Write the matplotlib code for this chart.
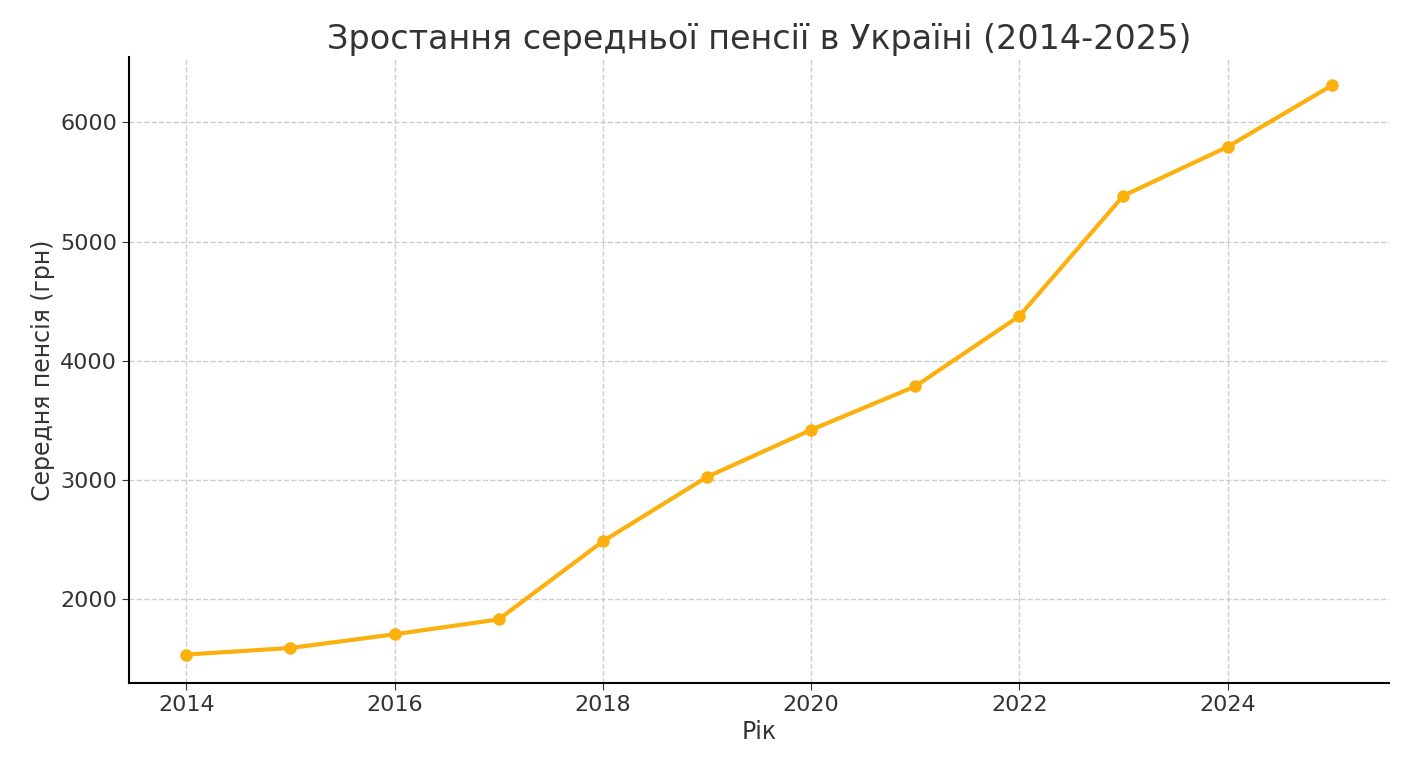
import matplotlib.pyplot as plt

years = [2014, 2015, 2016, 2017, 2018, 2019, 2020, 2021, 2022, 2023, 2024, 2025]
pension = [1535, 1590, 1705, 1830, 2485, 3025, 3420, 3785, 4375, 5385, 5795, 6310]

fig = plt.figure(figsize=(14.01, 7.65), dpi=100)
ax = fig.add_axes([129 / 1401, 1 - 683 / 765, 1260 / 1401, 626 / 765])
ax.plot(years, pension, color='#fbb00e', linewidth=3, marker='o', markersize=8)
ax.set_title('Зростання середньої пенсії в Україні (2014-2025)', fontsize=24, color='#333333')
ax.set_xlabel('Рік', fontsize=17, color='#333333')
ax.set_ylabel('Середня пенсія (грн)', fontsize=17, color='#333333')
ax.tick_params(labelsize=16, colors='#333333', length=5)
ax.set_xticks([2014, 2016, 2018, 2020, 2022, 2024])
ax.set_yticks([2000, 3000, 4000, 5000, 6000])
ax.grid(True, linestyle='--', color='#cccccc', linewidth=1)
ax.spines['top'].set_visible(False)
ax.spines['right'].set_visible(False)
ax.spines['left'].set_linewidth(1.5)
ax.spines['bottom'].set_linewidth(1.5)
fig.savefig('out.png', dpi=100)
